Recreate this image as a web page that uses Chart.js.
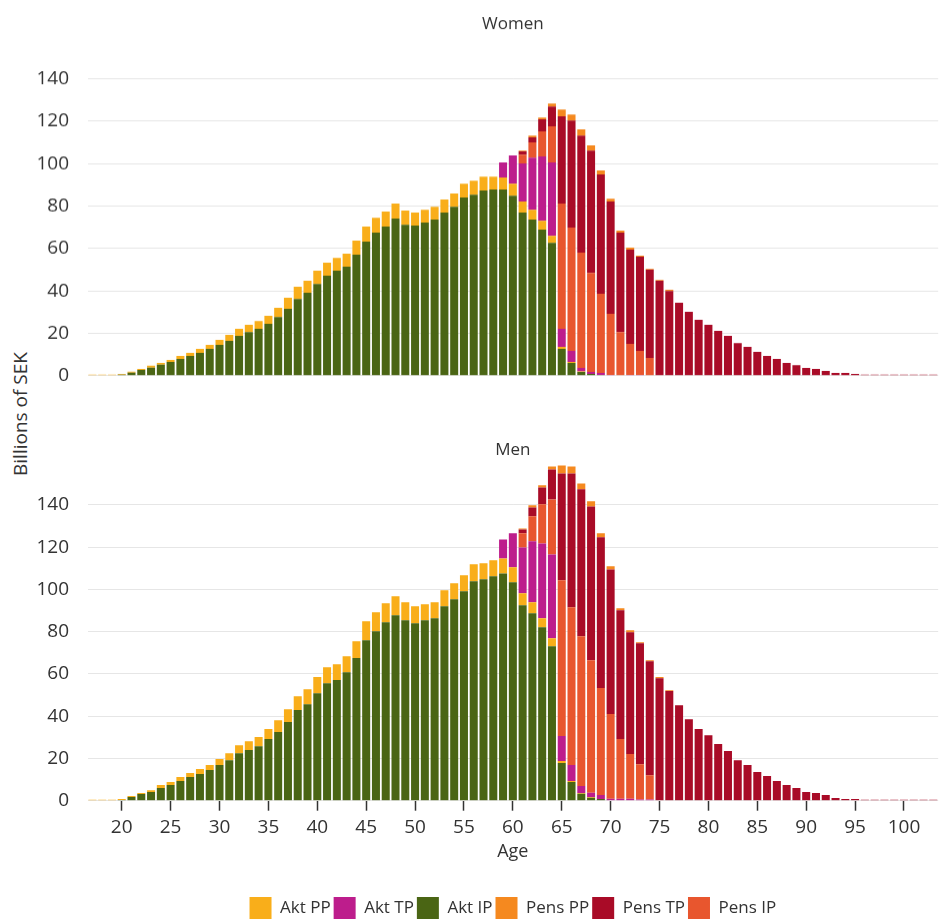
<!DOCTYPE html>
<html lang="sv">
<head>
    <meta charset="UTF-8">
    <title>Women / Men - Billions of SEK</title>
    <style>
        body {
            margin: 0;
            padding: 0;
            background: #fff;
        }
        .page {
            position: relative;
            width: 940px;
            height: 920px;
            overflow: hidden;
            font-family: 'Open Sans', sans-serif;
            color: #333;
        }
        .chart-box {
            position: absolute;
            left: 0;
            width: 940px;
        }
        #womenBox { top: 0; height: 404.6px; }
        #menBox { top: 425px; height: 504px; }
        .y-title {
            position: absolute;
            left: 19.5px;
            top: 414px;
            transform: translate(-50%, -50%) rotate(-90deg);
            font-size: 19px;
            line-height: 19px;
            white-space: nowrap;
        }
    </style>
</head>
<body>
<div class="page">
    <div class="y-title">Billions of SEK</div>
    <div class="chart-box" id="womenBox"><canvas id="womenChart"></canvas></div>
    <div class="chart-box" id="menBox"><canvas id="menChart"></canvas></div>
</div>

<script src="https://cdn.jsdelivr.net/npm/chart.js"></script>
<script>
    // Ages 17-103
    const ages = [17, 18, 19, 20, 21, 22, 23, 24, 25, 26, 27, 28, 29, 30, 31, 32, 33, 34, 35, 36,
        37, 38, 39, 40, 41, 42, 43, 44, 45, 46, 47, 48, 49, 50, 51, 52, 53, 54, 55, 56,
        57, 58, 59, 60, 61, 62, 63, 64, 65, 66, 67, 68, 69, 70, 71, 72, 73, 74, 75, 76,
        77, 78, 79, 80, 81, 82, 83, 84, 85, 86, 87, 88, 89, 90, 91, 92, 93, 94, 95, 96,
        97, 98, 99, 100, 101, 102, 103];

    const yTicks = [0, 20, 40, 60, 80, 100, 120, 140];

    // Women (billions of SEK)
    const wAktIP = [0, 0, 0, 0.5, 1.4, 2.7, 3.8, 5.2, 6.5, 7.9, 9.3, 10.7, 12.6, 14.5, 16.4, 18.8, 20.6, 22.1, 24.4, 27.7,
        31.5, 36.2, 39.1, 43.3, 47.1, 49.5, 51.4, 57.1, 63.2, 67.5, 70.3, 74.1, 71.2, 70.8, 72.2, 73.6, 76.9, 79.7, 84.0, 85.4,
        87.3, 87.8, 87.8, 84.9, 76.9, 73.6, 68.9, 62.7, 12.6, 6.0, 1.7, 0.8, 0.3, 0, 0, 0, 0, 0, 0, 0,
        0, 0, 0, 0, 0, 0, 0, 0, 0, 0, 0, 0, 0, 0, 0, 0, 0, 0, 0, 0,
        0, 0, 0, 0, 0, 0, 0];
    const wAktPP = [0.4, 0.4, 0.4, 0.3, 0.5, 0.5, 0.9, 0.8, 0.9, 1.4, 1.4, 1.9, 1.9, 2.4, 2.8, 3.3, 3.4, 3.7, 3.8, 4.3,
        5.2, 5.7, 5.7, 6.2, 6.2, 6.1, 6.1, 6.6, 7.1, 7.0, 7.1, 7.1, 6.7, 6.1, 6.1, 6.1, 6.2, 6.2, 6.6, 6.6,
        6.6, 6.1, 5.7, 5.7, 5.2, 4.7, 4.2, 3.3, 1.0, 0.5, 0.3, 0, 0, 0, 0, 0, 0, 0, 0, 0,
        0, 0, 0, 0, 0, 0, 0, 0, 0, 0, 0, 0, 0, 0, 0, 0, 0, 0, 0, 0,
        0, 0, 0, 0, 0, 0, 0];
    const wAktTP = [0, 0, 0, 0, 0, 0, 0, 0, 0, 0, 0, 0, 0, 0, 0, 0, 0, 0, 0, 0,
        0, 0, 0, 0, 0, 0, 0, 0, 0, 0, 0, 0, 0, 0, 0, 0, 0, 0, 0, 0,
        0, 0, 7.1, 13.3, 18.0, 24.6, 30.3, 34.6, 8.5, 5.2, 1.6, 0.9, 1.0, 0.3, 0.2, 0.3, 0.3, 0.2, 0, 0,
        0, 0, 0, 0, 0, 0, 0, 0, 0, 0, 0, 0, 0, 0, 0, 0, 0, 0, 0, 0,
        0, 0, 0, 0, 0, 0, 0];
    const wPensIP = [0, 0, 0, 0, 0, 0, 0, 0, 0, 0, 0, 0, 0, 0, 0, 0, 0, 0, 0, 0,
        0, 0, 0, 0, 0, 0, 0, 0, 0, 0, 0, 0, 0, 0, 0, 0, 0, 0, 0, 0,
        0, 0, 0, 0, 4.2, 7.1, 11.8, 17.0, 59.1, 58.1, 54.4, 46.8, 37.3, 28.9, 20.4, 14.7, 11.4, 8.2, 0, 0,
        0, 0, 0, 0, 0, 0, 0, 0, 0, 0, 0, 0, 0, 0, 0, 0, 0, 0, 0, 0,
        0, 0, 0, 0, 0, 0, 0];
    const wPensTP = [0, 0, 0, 0, 0, 0, 0, 0, 0, 0, 0, 0, 0, 0, 0, 0, 0, 0, 0, 0,
        0, 0, 0, 0, 0, 0, 0, 0, 0, 0, 0, 0, 0, 0, 0, 0, 0, 0, 0, 0,
        0, 0, 0, 0, 1.5, 2.4, 5.7, 9.4, 41.1, 50.6, 55.3, 57.7, 56.3, 52.9, 46.9, 44.4, 44.4, 41.6, 44.8, 40.0,
        34.4, 30.1, 26.3, 24.0, 21.1, 18.8, 15.4, 13.6, 11.2, 9.3, 7.9, 6.0, 5.0, 3.6, 3.2, 2.2, 1.3, 1.3, 0.8, 0.5,
        0.4, 0.4, 0.4, 0.4, 0.4, 0.4, 0.4];
    const wPensPP = [0, 0, 0, 0, 0, 0, 0, 0, 0, 0, 0, 0, 0, 0, 0, 0, 0, 0, 0, 0,
        0, 0, 0, 0, 0, 0, 0, 0, 0, 0, 0, 0, 0, 0, 0, 0, 0, 0, 0, 0,
        0, 0, 0, 0, 0.4, 0.9, 0.9, 1.4, 3.3, 2.8, 2.9, 2.4, 1.9, 1.4, 0.9, 1.0, 0.5, 0.4, 0.4, 0.5,
        0, 0, 0, 0, 0, 0, 0, 0, 0, 0, 0, 0, 0, 0, 0, 0, 0, 0, 0, 0,
        0, 0, 0, 0, 0, 0, 0];

    // Men (billions of SEK)
    const mAktIP = [0, 0, 0, 0.3, 1.7, 3.2, 4.1, 6.0, 7.4, 9.3, 11.2, 12.6, 14.5, 16.9, 19.2, 22.5, 24.0, 25.8, 29.2, 32.5,
        37.2, 42.9, 45.7, 50.9, 55.6, 57.1, 60.8, 67.5, 76.0, 80.2, 84.5, 87.8, 85.4, 84.0, 85.4, 86.4, 92.0, 95.4, 99.1, 103.9,
        104.8, 106.2, 107.6, 103.4, 92.5, 88.7, 82.1, 73.1, 17.8, 8.8, 3.3, 1.4, 0.8, 0, 0, 0, 0, 0, 0, 0,
        0, 0, 0, 0, 0, 0, 0, 0, 0, 0, 0, 0, 0, 0, 0, 0, 0, 0, 0, 0,
        0, 0, 0, 0, 0, 0, 0];
    const mAktPP = [0.4, 0.4, 0.4, 0.5, 0.5, 0.4, 0.9, 1.4, 1.4, 1.9, 1.9, 2.4, 2.4, 2.8, 3.3, 3.8, 4.2, 4.3, 4.7, 5.6,
        6.1, 6.6, 7.1, 7.6, 7.6, 7.5, 7.6, 8.0, 8.9, 9.0, 9.0, 9.0, 8.5, 8.0, 7.6, 7.5, 7.6, 7.5, 7.6, 8.0,
        7.6, 7.6, 7.1, 7.1, 5.7, 5.2, 4.3, 3.8, 1.0, 0.5, 0.3, 0.3, 0, 0, 0, 0, 0, 0, 0, 0,
        0, 0, 0, 0, 0, 0, 0, 0, 0, 0, 0, 0, 0, 0, 0, 0, 0, 0, 0, 0,
        0, 0, 0, 0, 0, 0, 0];
    const mAktTP = [0, 0, 0, 0, 0, 0, 0, 0, 0, 0, 0, 0, 0, 0, 0, 0, 0, 0, 0, 0,
        0, 0, 0, 0, 0, 0, 0, 0, 0, 0, 0, 0, 0, 0, 0, 0, 0, 0, 0, 0,
        0, 0, 9.0, 16.1, 21.7, 28.9, 35.4, 39.7, 11.8, 7.6, 3.3, 2.1, 1.9, 0.9, 0.9, 0.9, 0.6, 0.6, 0, 0,
        0, 0, 0, 0, 0, 0, 0, 0, 0, 0, 0, 0, 0, 0, 0, 0, 0, 0, 0, 0,
        0, 0, 0, 0, 0, 0, 0];
    const mPensIP = [0, 0, 0, 0, 0, 0, 0, 0, 0, 0, 0, 0, 0, 0, 0, 0, 0, 0, 0, 0,
        0, 0, 0, 0, 0, 0, 0, 0, 0, 0, 0, 0, 0, 0, 0, 0, 0, 0, 0, 0,
        0, 0, 0, 0, 6.7, 11.8, 18.5, 26.0, 73.7, 74.7, 71.0, 62.7, 50.6, 40.1, 28.3, 21.2, 16.7, 11.5, 0, 0,
        0, 0, 0, 0, 0, 0, 0, 0, 0, 0, 0, 0, 0, 0, 0, 0, 0, 0, 0, 0,
        0, 0, 0, 0, 0, 0, 0];
    const mPensTP = [0, 0, 0, 0, 0, 0, 0, 0, 0, 0, 0, 0, 0, 0, 0, 0, 0, 0, 0, 0,
        0, 0, 0, 0, 0, 0, 0, 0, 0, 0, 0, 0, 0, 0, 0, 0, 0, 0, 0, 0,
        0, 0, 0, 0, 1.8, 4.2, 8.0, 14.2, 50.6, 63.3, 69.5, 72.8, 71.4, 68.5, 60.9, 57.6, 57.2, 53.9, 58.0, 51.9,
        45.2, 38.6, 33.9, 31.0, 26.8, 23.5, 19.2, 16.9, 13.6, 11.7, 9.3, 7.4, 6.0, 4.1, 3.6, 2.7, 1.3, 0.8, 0.8, 0.4,
        0.4, 0.4, 0.4, 0.4, 0.4, 0.4, 0.4];
    const mPensPP = [0, 0, 0, 0, 0, 0, 0, 0, 0, 0, 0, 0, 0, 0, 0, 0, 0, 0, 0, 0,
        0, 0, 0, 0, 0, 0, 0, 0, 0, 0, 0, 0, 0, 0, 0, 0, 0, 0, 0, 0,
        0, 0, 0, 0, 0.5, 1.0, 1.0, 1.4, 3.8, 3.3, 2.8, 2.4, 1.9, 1.5, 1.0, 1.0, 0.5, 0.5, 0.5, 0.4,
        0, 0, 0, 0, 0, 0, 0, 0, 0, 0, 0, 0, 0, 0, 0, 0, 0, 0, 0, 0,
        0, 0, 0, 0, 0, 0, 0];

    // order in the legend (stack order is different)
    const legendOrder = ['Akt PP', 'Akt TP', 'Akt IP', 'Pens PP', 'Pens TP', 'Pens IP'];

    const colors = {
        'Akt PP': '#f9ae1a',
        'Akt TP': '#bd1d8c',
        'Akt IP': '#4a6514',
        'Pens PP': '#f5891f',
        'Pens TP': '#a90b27',
        'Pens IP': '#e8562e'
    };

    Chart.defaults.font.family = "'Open Sans', sans-serif";
    Chart.defaults.color = '#333';

    // bottom -> top: Akt IP, Akt PP, Akt TP, Pens IP, Pens TP, Pens PP
    function makeDatasets(aktIP, aktPP, aktTP, pensIP, pensTP, pensPP) {
        const list = [
            ['Akt IP', aktIP], ['Akt PP', aktPP], ['Akt TP', aktTP],
            ['Pens IP', pensIP], ['Pens TP', pensTP], ['Pens PP', pensPP]
        ];
        return list.map(function (s) {
            return {
                label: s[0],
                data: s[1],
                backgroundColor: colors[s[0]],
                borderWidth: 0,
                categoryPercentage: 1,
                barPercentage: 0.82
            };
        });
    }

    function yScale() {
        return {
            stacked: true,
            min: 0,
            max: 160,
            afterFit: function (scale) { scale.width = 87.5; },
            border: { display: false },
            grid: {
                drawTicks: false,
                color: ctx => (ctx.tick && ctx.tick.value === 160) ? 'rgba(0,0,0,0)' : '#e6e6e6'
            },
            ticks: {
                stepSize: 20,
                padding: 18.5,
                font: { size: 19 },
                callback: v => yTicks.includes(v) ? v : ''
            }
        };
    }

    function xScale(show) {
        return {
            stacked: true,
            display: show,
            border: { display: false },
            afterFit: function (scale) { if (show) scale.height = 93.3; },
            grid: {
                offset: false,
                drawOnChartArea: false,
                tickLength: 10,
                tickWidth: 1.5,
                tickColor: ctx => (ages[ctx.index] % 5 === 0) ? '#333' : 'rgba(0,0,0,0)'
            },
            ticks: {
                autoSkip: false,
                maxRotation: 0,
                padding: 5.1,
                font: { size: 19 },
                callback: (v, i) => ages[i] % 5 === 0 ? ages[i] : ''
            },
            title: {
                display: true,
                text: 'Age',
                font: { size: 18 },
                padding: { top: 3.2, bottom: 31.8 }
            }
        };
    }

    // Women
    new Chart(document.getElementById('womenChart'), {
        type: 'bar',
        data: {
            labels: ages,
            datasets: makeDatasets(wAktIP, wAktPP, wAktTP, wPensIP, wPensTP, wPensPP)
        },
        options: {
            responsive: true,
            maintainAspectRatio: false,
            animation: false,
            layout: { padding: { left: 0, right: 1.8, top: 0, bottom: 0 } },
            plugins: {
                legend: { display: false },
                tooltip: { enabled: false },
                title: {
                    display: true,
                    text: 'Women',
                    fullSize: false,
                    font: { size: 17, weight: 'normal' },
                    padding: { top: 14.3, bottom: 1.7 }
                }
            },
            scales: {
                x: xScale(false),
                y: yScale()
            }
        }
    });

    // Men
    new Chart(document.getElementById('menChart'), {
        type: 'bar',
        data: {
            labels: ages,
            datasets: makeDatasets(mAktIP, mAktPP, mAktTP, mPensIP, mPensTP, mPensPP)
        },
        options: {
            responsive: true,
            maintainAspectRatio: false,
            animation: false,
            layout: { padding: { left: 0, right: 1.8, top: 0, bottom: 0 } },
            plugins: {
                tooltip: { enabled: false },
                title: {
                    display: true,
                    text: 'Men',
                    fullSize: false,
                    font: { size: 17, weight: 'normal' },
                    padding: { top: 15.3, bottom: 2.0 }
                },
                legend: {
                    position: 'bottom',
                    fullSize: false,
                    labels: {
                        boxWidth: 22,
                        boxHeight: 22,
                        padding: 3,
                        font: { size: 17 },
                        sort: (a, b) => legendOrder.indexOf(a.text) - legendOrder.indexOf(b.text)
                    }
                }
            },
            scales: {
                x: xScale(true),
                y: yScale()
            }
        }
    });
</script>
</body>
</html>
